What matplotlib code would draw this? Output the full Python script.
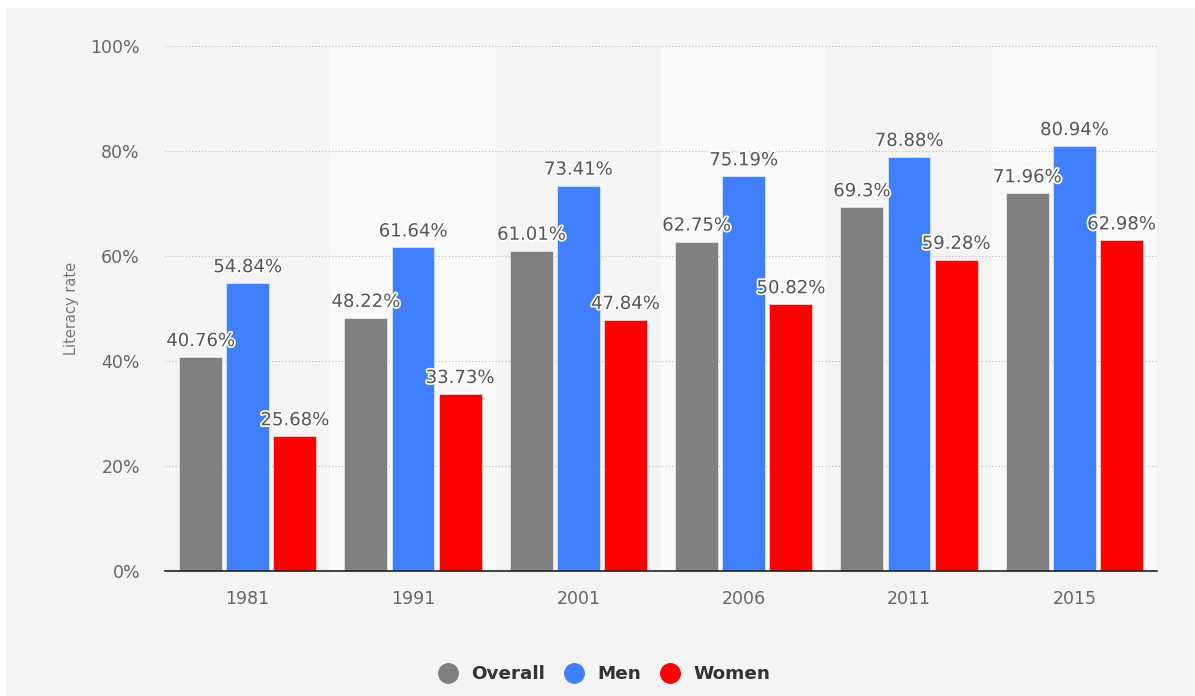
import matplotlib.pyplot as plt
import matplotlib.patheffects as pe
from matplotlib.patches import Rectangle
import numpy as np

# dados do gráfico
anos = ["1981", "1991", "2001", "2006", "2011", "2015"]
geral = [40.76, 48.22, 61.01, 62.75, 69.3, 71.96]
homens = [54.84, 61.64, 73.41, 75.19, 78.88, 80.94]
mulheres = [25.68, 33.73, 47.84, 50.82, 59.28, 62.98]
series = ["Overall", "Men", "Women"]
cores = ["#808080", "#4080ff", "#ff0000"]

fig = plt.figure(figsize=(11.95, 6.96), dpi=100)
fig.patch.set_facecolor("white")
# painel cinza de fundo
fig.add_artist(Rectangle((6 / 1195, 0), 1, 1 - 8 / 696, transform=fig.transFigure,
                         facecolor="#f4f4f4", edgecolor="none", zorder=-10))

ax = fig.add_axes([165 / 1195, 1 - 571 / 696, 992 / 1195, 525 / 696])
ax.set_facecolor("none")

x = np.arange(len(anos))
largura = 0.26
passo = 0.285

# faixas alternadas
for i in range(len(anos)):
    if i % 2 == 1:
        ax.axvspan(i - 0.5, i + 0.5, color="#f9f9f9", zorder=0, lw=0)

efeito = [pe.withStroke(linewidth=2.5, foreground="white")]
for k, (valores, cor) in enumerate(zip([geral, homens, mulheres], cores)):
    pos = x + (k - 1) * passo
    ax.bar(pos, valores, width=largura, color=cor, edgecolor=(1, 1, 1, 0.6),
           linewidth=0.6, zorder=3, label=series[k])
    for xp, v in zip(pos, valores):
        ax.annotate(f"{v:g}%", (xp, v), xytext=(0, 5), textcoords="offset points",
                    ha="center", va="bottom", fontsize=13, color="#555555",
                    path_effects=efeito, zorder=4)

ax.set_xlim(-0.5, len(anos) - 0.5)
ax.set_ylim(0, 100)
ax.set_yticks([0, 20, 40, 60, 80, 100])
ax.set_yticklabels([f"{t}%" for t in [0, 20, 40, 60, 80, 100]])
ax.set_xticks(x)
ax.set_xticklabels(anos)
ax.tick_params(axis="both", length=0, labelsize=12.5, colors="#666666")
ax.tick_params(axis="y", pad=18)
ax.tick_params(axis="x", pad=14)
ax.yaxis.grid(True, linestyle=(0, (1, 2)), color="#bbbbbb", linewidth=0.8, zorder=1)
ax.set_axisbelow(True)
for lado in ["top", "right", "left"]:
    ax.spines[lado].set_visible(False)
ax.spines["bottom"].set_color("#222222")
ax.spines["bottom"].set_linewidth(1.2)
ax.spines["bottom"].set_zorder(5)

ax.set_ylabel("Literacy rate", fontsize=10.5, color="#777777")
ax.yaxis.set_label_coords(-0.087, 0.5)

# legenda
handles = [plt.Line2D([], [], marker="o", linestyle="", markersize=14, color=c) for c in cores]
leg = fig.legend(handles, series, loc="center", bbox_to_anchor=(0.502, 1 - 674 / 696),
                 ncol=3, frameon=False, handletextpad=0.25, columnspacing=0.6,
                 prop={"weight": "bold", "size": 13.2})
for t in leg.get_texts():
    t.set_color("#333333")

fig.savefig("out.png", dpi=100)
